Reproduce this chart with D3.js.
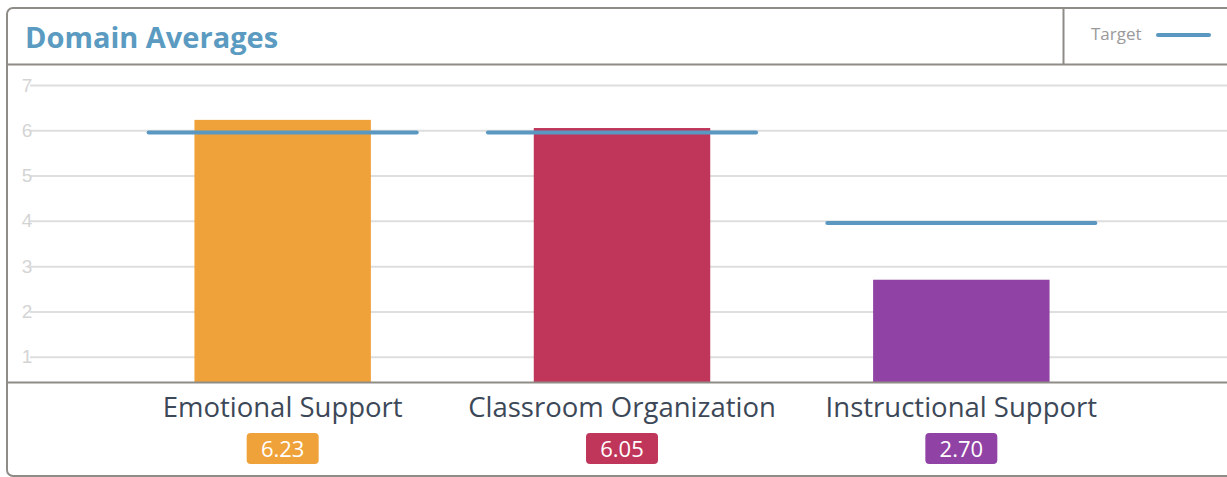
<!doctype html>
<html lang="en">
  <head>
    <meta charset="utf-8">
    <title>Domain Averages</title>
    <style>
    body { margin: 0; background: #fff; }
    svg { display: block; font-family: "Open Sans", Lato, sans-serif; }
    .grid line { stroke: #dedede; stroke-width: 2px; }
    .grid text { fill: #d4d4d4; font-size: 19px; }
    .grid path { display: none; }
    </style>
    <script src="https://d3js.org/d3.v7.min.js"></script>
  </head>
  <body>
    <svg width="1227" height="477"></svg>
    <script>
    // chart data
    var domains = ["Emotional Support", "Classroom Organization", "Instructional Support"];
    var averages = [6.23, 6.05, 2.70];
    var targets = [5.95, 5.95, 3.95];
    var colors = ["#f0a23a", "#c0365a", "#9043a5"];
    var yTicks = [1, 2, 3, 4, 5, 6, 7];

    var svg = d3.select("svg"),
        width = +svg.attr("width"),
        height = +svg.attr("height");

    var frameColor = "#8f8b86",
        targetColor = "#5a98c2";

    // outer panel
    svg.append("rect")
        .attr("x", 7).attr("y", 8)
        .attr("width", 1240).attr("height", 468)
        .attr("rx", 6)
        .attr("fill", "#fff")
        .attr("stroke", frameColor)
        .attr("stroke-width", 2);

    // header
    svg.append("line")
        .attr("x1", 7).attr("x2", width)
        .attr("y1", 64.5).attr("y2", 64.5)
        .attr("stroke", frameColor).attr("stroke-width", 2);

    svg.append("text")
        .attr("x", 25).attr("y", 48)
        .style("font-size", "29px")
        .style("font-weight", "bold")
        .style("fill", "#5b9bc1")
        .text("Domain Averages");

    // legend box
    svg.append("line")
        .attr("x1", 1063.5).attr("x2", 1063.5)
        .attr("y1", 8).attr("y2", 64)
        .attr("stroke", frameColor).attr("stroke-width", 2);

    svg.append("text")
        .attr("x", 1091).attr("y", 40)
        .style("font-size", "17px")
        .style("fill", "#9a9a9a")
        .text("Target");

    svg.append("line")
        .attr("x1", 1158).attr("x2", 1209)
        .attr("y1", 35).attr("y2", 35)
        .attr("stroke", targetColor)
        .attr("stroke-width", 4)
        .attr("stroke-linecap", "round");

    // scales
    var y = d3.scaleLinear()
        .domain([0, 7])
        .range([402, 85]);

    var x = d3.scaleBand()
        .domain(domains)
        .range([113, 1131])
        .padding(0);

    var bw = x.bandwidth();

    // gridlines
    var grid = svg.append("g")
        .attr("class", "grid")
        .attr("transform", "translate(30,0)")
        .call(d3.axisLeft(y).tickValues(yTicks).tickSize(-1250).tickFormat(d3.format("d")).tickPadding(7));

    grid.selectAll("text").attr("text-anchor", "middle").attr("dx", "4");

    var plot = svg.append("g");

    // bars
    plot.selectAll("rect.bar")
        .data(domains)
        .enter().append("rect")
        .attr("class", "bar")
        .attr("x", function(d) { return x(d) + bw * 0.24; })
        .attr("width", bw * 0.52)
        .attr("y", function(d, i) { return y(averages[i]); })
        .attr("height", function(d, i) { return 382 - y(averages[i]); })
        .attr("fill", function(d, i) { return colors[i]; });

    // target lines
    plot.selectAll("line.target")
        .data(domains)
        .enter().append("line")
        .attr("class", "target")
        .attr("x1", function(d) { return x(d) + bw * 0.105; })
        .attr("x2", function(d) { return x(d) + bw * 0.895; })
        .attr("y1", function(d, i) { return y(targets[i]); })
        .attr("y2", function(d, i) { return y(targets[i]); })
        .attr("stroke", targetColor)
        .attr("stroke-width", 4)
        .attr("stroke-linecap", "round");

    // baseline
    svg.append("line")
        .attr("x1", 7).attr("x2", width)
        .attr("y1", 382.5).attr("y2", 382.5)
        .attr("stroke", frameColor).attr("stroke-width", 2);

    // category labels
    svg.selectAll("text.cat")
        .data(domains)
        .enter().append("text")
        .attr("class", "cat")
        .attr("x", function(d) { return x(d) + bw / 2; })
        .attr("y", 417)
        .attr("text-anchor", "middle")
        .style("font-size", "27.5px")
        .style("fill", "#3c4858")
        .text(function(d) { return d; });

    // value badges
    var badge = svg.selectAll("g.badge")
        .data(domains)
        .enter().append("g")
        .attr("class", "badge")
        .attr("transform", function(d) { return "translate(" + (x(d) + bw / 2) + ",449)"; });

    badge.append("rect")
        .attr("x", -36).attr("y", -16)
        .attr("width", 72).attr("height", 31)
        .attr("rx", 4)
        .attr("fill", function(d, i) { return colors[i]; });

    badge.append("text")
        .attr("text-anchor", "middle")
        .attr("y", 8)
        .style("font-size", "22px")
        .style("fill", "#fff")
        .text(function(d, i) { return averages[i].toFixed(2); });
    </script>
  </body>
</html>
